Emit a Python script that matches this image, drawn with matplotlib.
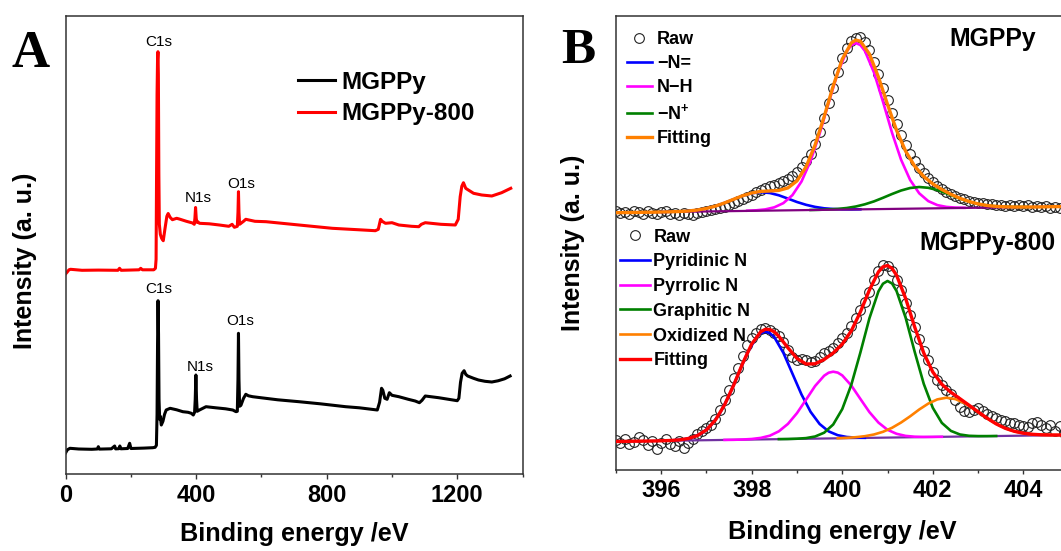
import matplotlib
matplotlib.use("Agg")
import matplotlib.pyplot as plt
from matplotlib.ticker import FixedLocator, MultipleLocator

plt.rcParams['font.family'] = ['Liberation Sans', 'DejaVu Sans']
plt.rcParams['mathtext.fontset'] = 'custom'
plt.rcParams['mathtext.rm'] = 'Liberation Sans:bold'
plt.rcParams['mathtext.bf'] = 'Liberation Sans:bold'
plt.rcParams['mathtext.it'] = 'Liberation Sans:bold'

# ---------------- Panel A: XPS survey spectra ----------------
black_ev = [0, 5, 13, 40, 80, 97, 100, 103, 140, 150, 153, 163, 166, 169, 190, 196, 200, 240, 267, 274,
            278, 280, 281.5, 283, 284.5, 286, 288, 290, 293, 298, 303, 308, 320, 340, 359, 375, 385, 391,
            395, 397, 399, 401, 403, 410, 430, 460, 490, 512, 522, 526, 528, 529.5, 531, 533, 537, 545,
            552, 560, 573, 600, 650, 715, 780, 858, 900, 955, 962, 968, 972, 978, 985, 992, 1000, 1021,
            1050, 1071, 1084, 1092, 1102, 1143, 1200, 1205, 1210, 1215, 1221, 1226, 1232, 1250, 1265,
            1285, 1306, 1325, 1345, 1362]
black_int = [21.6, 24.5, 26, 25.3, 25, 25.3, 27.6, 25.2, 25.5, 28.3, 25.4, 25.6, 28.3, 25.5, 25.8, 31, 25.8,
             26.2, 26.6, 27, 29, 60, 130, 173.6, 140, 75, 55, 58, 49.3, 53, 60, 64.3, 66, 64.5, 62.6, 62,
             61, 59.3, 62, 75, 99.3, 75, 63, 64.3, 67.6, 66.5, 65.5, 64.3, 62.6, 63, 95, 141, 95, 68, 69,
             76, 80, 78.5, 77.6, 76.5, 74.5, 72.6, 70.5, 67.6, 66.5, 64.3, 72, 86, 84, 76, 75, 81.6, 79,
             77.6, 75, 73.3, 71.6, 74, 78.3, 76.6, 73.6, 76, 92, 101, 103.6, 100, 98.3, 96, 94.3, 93, 92.3,
             93.5, 95.5, 98.3]

red_ev = [0, 4, 10, 15, 50, 100, 160, 165, 170, 225, 230, 235, 270, 275, 277, 278.5, 280, 281.5, 282.8,
          284, 285.5, 287, 290, 294, 299, 304, 310, 314, 320, 327, 340, 348, 370, 389, 394, 396, 398, 400,
          402, 405, 410, 440, 471, 500, 510, 517, 526, 528, 529.5, 531, 533, 537, 545, 552, 580, 614, 715,
          817, 900, 949, 958, 965, 970, 980, 1000, 1021, 1060, 1082, 1090, 1102, 1150, 1194, 1203, 1209,
          1214, 1219, 1226, 1234, 1250, 1275, 1306, 1336, 1364]
red_int = [200.5, 202, 204.5, 205, 204, 204.2, 204, 206, 204, 204.5, 206, 204.5, 204.5, 206, 215, 300,
           380, 415, 422.6, 400, 300, 250, 240, 236, 233.6, 245, 258, 260.8, 257, 254.6, 256, 255.3, 253,
           251.3, 250, 256, 266.8, 256, 252, 252.5, 251, 250.5, 249.3, 248, 250, 247, 248, 262, 282.6, 262,
           250, 251, 253, 255, 253, 252.6, 249.3, 246, 244.5, 243.6, 245, 255, 253, 251, 251.6, 249.3, 248,
           247.6, 250, 251.6, 250, 249.3, 255, 277.6, 288, 291.6, 286, 284.3, 281, 279.3, 278.3, 281.6, 286]

survey_names = ['MGPPy', 'MGPPy-800']
a_ticks = [0, 400, 800, 1200]
a_tick_labels = ['0', '400', '800', '1200']
a_minor = [200, 600, 1000, 1400]

peak_labels = ['C1s', 'N1s', 'O1s', 'C1s', 'N1s', 'O1s']
peak_label_x = [285.5, 406.5, 537.3, 283.7, 411.6, 534.7]
peak_label_y = [432.0, 276.5, 290.1, 185.5, 107.3, 153.3]

# ---------------- Panel B: N1s high resolution ----------------
raw_top_x = [395.0, 395.1, 395.2, 395.3, 395.4, 395.5, 395.6, 395.7, 395.8, 395.9,
             396.0, 396.1, 396.2, 396.3, 396.4, 396.5, 396.6, 396.7, 396.8, 396.9,
             397.0, 397.1, 397.2, 397.3, 397.4, 397.5, 397.6, 397.7, 397.8, 397.9,
             398.0, 398.1, 398.2, 398.3, 398.4, 398.5, 398.6, 398.7, 398.8, 398.9,
             399.0, 399.1, 399.2, 399.3, 399.4, 399.5, 399.6, 399.7, 399.8, 399.9,
             400.0, 400.1, 400.2, 400.3, 400.4, 400.5, 400.6, 400.7, 400.8, 400.9,
             401.0, 401.1, 401.2, 401.3, 401.4, 401.5, 401.6, 401.7, 401.8, 401.9,
             402.0, 402.1, 402.2, 402.3, 402.4, 402.5, 402.6, 402.7, 402.8, 402.9,
             403.0, 403.1, 403.2, 403.3, 403.4, 403.5, 403.6, 403.7, 403.8, 403.9,
             404.0, 404.1, 404.2, 404.3, 404.4, 404.5, 404.6, 404.7, 404.8]
raw_top_y = [259, 257, 258, 256, 259, 258, 256, 259, 257, 256,
             258, 259, 256, 257, 255, 257, 256, 255, 257, 258,
             259, 260, 261, 262, 263.5, 265, 267, 269, 271, 273,
             275.5, 278, 280.5, 282.5, 284, 285.5, 287, 289, 291, 294,
             298, 303, 309, 316, 326, 338, 352, 367, 382, 398,
             412, 422, 429, 432, 433, 428, 420, 408, 396, 382,
             370, 357, 346, 335, 325, 316, 309, 302, 297, 292,
             288, 284, 281, 278, 276, 274, 272, 271, 269, 268,
             267.5, 267, 266, 266.5, 265, 265.5, 264, 265, 264, 265.5,
             264, 265, 263.5, 264.5, 263, 264, 262.5, 263.5, 262]

top_base_x = [395.0, 405.0]
top_base_y = [257.3, 263.5]

top_blue_x = [396.0, 396.2, 396.4, 396.6, 396.8, 397.0, 397.2, 397.4, 397.6, 397.8, 398.0, 398.2,
              398.4, 398.6, 398.8, 399.0, 399.2, 399.4, 399.6, 399.8, 400.0, 400.2, 400.4]
top_blue_y = [258.0, 258.2, 258.5, 259.0, 260.0, 261.6, 263.9, 267.1, 270.7, 274.2, 276.8, 277.8,
              277.0, 274.7, 271.4, 268.0, 265.2, 263.1, 261.7, 261.0, 260.7, 260.6, 260.7]

top_pink_x = [397.9, 398.1, 398.3, 398.5, 398.7, 398.9, 399.1, 399.3, 399.5, 399.7, 399.9, 400.1,
              400.2, 400.3, 400.4, 400.5, 400.7, 400.9, 401.1, 401.3, 401.5, 401.7, 401.9, 402.1,
              402.3, 402.5, 402.7]
top_pink_y = [259.3, 259.7, 260.6, 262.7, 266.9, 274.9, 288.5, 309.0, 336.2, 367.4, 397.1, 418.9,
              424.8, 426.9, 425.0, 419.1, 397.6, 368.2, 337.2, 310.2, 290.0, 276.7, 268.9, 264.9,
              263.1, 262.4, 262.2]

top_green_x = [399.3, 399.5, 399.7, 399.9, 400.1, 400.3, 400.5, 400.7, 400.9, 401.1, 401.3, 401.5,
               401.7, 401.9, 402.1, 402.3, 402.5, 402.7, 402.9, 403.1, 403.3, 403.5, 403.7, 403.9, 404.1]
top_green_y = [260.0, 260.2, 260.6, 261.1, 262.0, 263.5, 265.7, 268.6, 272.2, 276.0, 279.5, 282.0,
               283.0, 282.2, 280.0, 276.7, 273.1, 269.8, 267.2, 265.2, 264.0, 263.4, 263.1, 263.0, 263.0]

top_fit_x = [395.0, 395.2, 395.4, 395.6, 395.8, 396.0, 396.2, 396.4, 396.6, 396.8, 397.0, 397.2,
             397.4, 397.6, 397.8, 398.0, 398.2, 398.4, 398.6, 398.8, 399.0, 399.2, 399.4, 399.6,
             399.8, 400.0, 400.2, 400.3, 400.4, 400.6, 400.8, 401.0, 401.2, 401.4, 401.6, 401.8,
             402.0, 402.2, 402.4, 402.6, 402.8, 403.0, 403.2, 403.4, 403.6, 403.8, 404.0, 404.2,
             404.4, 404.6, 404.8, 405.0]
top_fit_y = [257.3, 257.4, 257.5, 257.7, 257.8, 258.0, 258.2, 258.5, 259.0, 260.0, 261.6, 263.9,
             267.1, 270.7, 274.3, 277.0, 278.6, 279.0, 279.6, 282.1, 289.1, 303.1, 325.0, 353.3,
             384.0, 410.8, 427.1, 429.9, 428.8, 416.0, 392.8, 365.5, 339.6, 318.8, 303.8, 293.5,
             286.1, 280.5, 275.7, 271.7, 268.5, 266.1, 264.5, 263.6, 263.2, 263.0, 263.0, 263.0,
             263.1, 263.3, 263.4, 263.5]

raw_bot_x = [395.0, 395.1, 395.2, 395.3, 395.4, 395.5, 395.6, 395.7, 395.8, 395.9,
             396.0, 396.1, 396.2, 396.3, 396.4, 396.5, 396.6, 396.7, 396.8, 396.9,
             397.0, 397.1, 397.2, 397.3, 397.4, 397.5, 397.6, 397.7, 397.8, 397.9,
             398.0, 398.1, 398.2, 398.3, 398.4, 398.5, 398.6, 398.7, 398.8, 398.9,
             399.0, 399.1, 399.2, 399.3, 399.4, 399.5, 399.6, 399.7, 399.8, 399.9,
             400.0, 400.1, 400.2, 400.3, 400.4, 400.5, 400.6, 400.7, 400.8, 400.9,
             401.0, 401.1, 401.2, 401.3, 401.4, 401.5, 401.6, 401.7, 401.8, 401.9,
             402.0, 402.1, 402.2, 402.3, 402.4, 402.5, 402.6, 402.7, 402.8, 402.9,
             403.0, 403.1, 403.2, 403.3, 403.4, 403.5, 403.6, 403.7, 403.8, 403.9,
             404.0, 404.1, 404.2, 404.3, 404.4, 404.5, 404.6, 404.7, 404.8, 404.9]
raw_bot_y = [30, 27, 31, 26, 28, 33, 30, 25, 29, 21,
             27, 31, 26, 24, 29, 22, 27, 31, 36, 39,
             42, 45, 51, 60, 70, 80, 92, 102, 114, 125,
             132, 137, 141, 142, 140, 137, 134, 128, 120, 113,
             110, 111, 110, 108, 109, 113, 117, 119, 122, 127,
             132, 137, 144, 152, 160, 168, 178, 190, 199, 205,
             204, 199, 190, 180, 167, 155, 143, 131, 119, 110,
             98, 90, 85, 80, 76, 70, 63, 59, 58, 60,
             62, 59, 56, 54, 52, 50, 49, 47, 47, 45,
             44, 43, 47, 48, 45, 42, 45, 39, 44, 37]

bot_base_x = [395.0, 405.0]
bot_base_y = [28.5, 35.0]

bot_blue_x = [396.1, 396.3, 396.5, 396.7, 396.9, 397.1, 397.3, 397.5, 397.7, 397.9, 398.1, 398.2,
              398.3, 398.4, 398.5, 398.7, 398.9, 399.1, 399.3, 399.5, 399.7, 399.9, 400.1, 400.3, 400.5]
bot_blue_y = [29.4, 29.8, 30.7, 32.7, 36.8, 44.5, 56.9, 74.4, 95.6, 116.6, 132.4, 136.8,
              138.4, 136.9, 132.7, 117.1, 96.3, 75.5, 58.2, 46.0, 38.6, 34.8, 33.0, 32.4, 32.2]

bot_pink_x = [397.4, 397.6, 397.8, 398.0, 398.2, 398.4, 398.6, 398.8, 399.0, 399.2, 399.4, 399.6,
              399.7, 399.8, 399.9, 400.0, 400.2, 400.4, 400.6, 400.8, 401.0, 401.2, 401.4, 401.6,
              401.8, 402.0, 402.2]
bot_pink_y = [30.1, 30.2, 30.5, 31.0, 32.1, 34.3, 38.7, 46.1, 56.9, 70.3, 84.0, 94.3,
              97.3, 98.3, 97.4, 94.6, 84.5, 71.1, 57.9, 47.4, 40.2, 36.2, 34.1, 33.3,
              33.1, 33.1, 33.2]

bot_green_x = [398.6, 398.8, 399.0, 399.2, 399.4, 399.6, 399.8, 400.0, 400.2, 400.4, 400.6, 400.8,
               400.9, 401.0, 401.1, 401.2, 401.4, 401.6, 401.8, 402.0, 402.2, 402.4, 402.6, 402.8,
               403.0, 403.2, 403.4]
bot_green_y = [30.9, 31.0, 31.3, 31.9, 33.5, 37.3, 45.5, 60.9, 85.2, 117.4, 151.7, 178.7,
               186.3, 189.0, 186.5, 178.9, 152.3, 118.2, 86.2, 62.2, 47.1, 39.1, 35.5, 34.2,
               33.9, 33.9, 34.0]

bot_orange_x = [399.9, 400.1, 400.3, 400.5, 400.7, 400.9, 401.1, 401.3, 401.5, 401.7, 401.9, 402.1,
                402.3, 402.5, 402.7, 402.9, 403.1, 403.3, 403.5, 403.7, 403.9, 404.1, 404.3, 404.5,
                404.7, 404.9]
bot_orange_y = [31.8, 32.2, 32.8, 33.8, 35.5, 38.2, 42.2, 47.5, 53.7, 60.5, 66.4, 70.6,
                72.3, 70.9, 66.9, 61.2, 54.8, 48.8, 43.8, 40.1, 37.6, 36.1, 35.4, 35.1,
                35.0, 35.0]

bot_fit_x = [395.0, 395.2, 395.4, 395.6, 395.8, 396.0, 396.2, 396.4, 396.6, 396.8, 397.0, 397.2,
             397.4, 397.6, 397.8, 398.0, 398.2, 398.3, 398.4, 398.5, 398.6, 398.8, 399.0, 399.2,
             399.4, 399.6, 399.8, 400.0, 400.2, 400.4, 400.6, 400.8, 400.9, 401.0, 401.1, 401.2,
             401.4, 401.6, 401.8, 402.0, 402.2, 402.4, 402.6, 402.8, 403.0, 403.2, 403.4, 403.6,
             403.8, 404.0, 404.2, 404.4, 404.6, 404.8, 405.0]
bot_fit_y = [28.5, 28.6, 28.8, 28.9, 29.0, 29.2, 29.5, 30.1, 31.5, 34.4, 40.1, 50.0,
             65.1, 84.7, 106.6, 126.0, 138.3, 140.7, 140.5, 138.1, 133.7, 122.2, 111.6, 106.0,
             106.2, 110.5, 117.0, 125.9, 139.1, 158.0, 180.0, 198.2, 203.2, 204.5, 201.6, 194.7,
             171.6, 143.0, 117.0, 98.0, 85.7, 77.7, 71.3, 64.8, 58.2, 51.8, 46.1, 41.7,
             38.7, 36.8, 35.7, 35.2, 35.0, 35.0, 35.0]

top_labels = ['Raw', '\u2212N=', 'N\u2212H', '\u2212N$^{+}$', 'Fitting']
bot_labels = ['Raw', 'Pyridinic N', 'Pyrrolic N', 'Graphitic N', 'Oxidized N', 'Fitting']
b_ticks = [396, 398, 400, 402, 404]
b_tick_labels = ['396', '398', '400', '402', '404']

# ---------------- Figure ----------------
W, H = 1061, 551
fig = plt.figure(figsize=(W / 100, H / 100), dpi=100)


def px_axes(l, t, r, b):
    return fig.add_axes([l / W, 1 - b / H, (r - l) / W, (b - t) / H])


spine_c = '#333333'
axA = px_axes(65.7, 15.7, 522.5, 474.3)
axB = px_axes(615.9, 15.7, 1068.6, 470.0)

for ax in (axA, axB):
    for s in ax.spines.values():
        s.set_color(spine_c)
        s.set_linewidth(1.1)
    ax.set_yticks([])

# Panel A
axA.plot(black_ev, black_int, color='black', lw=2.2, label=survey_names[0], solid_joinstyle='round')
axA.plot(red_ev, red_int, color='#FF0000', lw=2.2, label=survey_names[1], solid_joinstyle='round')
axA.set_xlim(0, 1400)
axA.set_ylim(0, 458.6)
axA.xaxis.set_major_locator(FixedLocator(a_ticks))
axA.xaxis.set_minor_locator(FixedLocator(a_minor))
axA.set_xticks(a_ticks, labels=a_tick_labels, fontweight='bold')
axA.tick_params(axis='x', which='major', direction='out', length=3.6, width=1.0, pad=3.3,
                labelsize=17, color=spine_c)
axA.tick_params(axis='x', which='minor', direction='out', length=2.5, width=1.0, color=spine_c)
for lab, lx, ly in zip(peak_labels, peak_label_x, peak_label_y):
    axA.text(lx, ly, lab, ha='center', va='center', fontsize=11)
axA.set_xlabel('Binding energy /eV', fontsize=18.2, fontweight='bold')
axA.xaxis.set_label_coords(0.5, -0.105)
axA.set_ylabel('Intensity (a. u.)', fontsize=18, fontweight='bold')
axA.yaxis.set_label_coords(-0.062, 0.465)
axA.legend(loc='upper left', bbox_to_anchor=(298.3 / W, 1 - 71 / H), bbox_transform=fig.transFigure,
           frameon=False, prop={'weight': 'bold', 'size': 17.5}, handlelength=1.51,
           handletextpad=0.28, labelspacing=0.34, borderpad=0, borderaxespad=0)
fig.text(31 / W, 1 - 66.7 / H, 'A', family=['Liberation Serif', 'DejaVu Serif'], fontweight='bold',
         fontsize=38, ha='center', va='baseline')

# Panel B
mk = dict(marker='o', ls='none', ms=7, mfc='none', mec='#222222', mew=0.8)
raw_t, = axB.plot(raw_top_x, raw_top_y, zorder=2, **mk)
raw_b, = axB.plot(raw_bot_x, raw_bot_y, zorder=2, **mk)
lw_c = 1.9
tb, = axB.plot(top_blue_x, top_blue_y, color='#0000FF', lw=lw_c, zorder=3)
tp, = axB.plot(top_pink_x, top_pink_y, color='#FF00FF', lw=lw_c, zorder=3)
tg, = axB.plot(top_green_x, top_green_y, color='#008000', lw=lw_c, zorder=3)
axB.plot(top_base_x, top_base_y, color='#800080', lw=1.6, zorder=3.5)
tf, = axB.plot(top_fit_x, top_fit_y, color='#FF8000', lw=2.4, zorder=4)

axB.plot(bot_base_x, bot_base_y, color='#7030A0', lw=1.6, zorder=2.9)
bb, = axB.plot(bot_blue_x, bot_blue_y, color='#0000FF', lw=lw_c, zorder=3)
bp, = axB.plot(bot_pink_x, bot_pink_y, color='#FF00FF', lw=lw_c, zorder=3)
bg, = axB.plot(bot_green_x, bot_green_y, color='#008000', lw=lw_c, zorder=3)
bo, = axB.plot(bot_orange_x, bot_orange_y, color='#FF8000', lw=lw_c, zorder=3)
bf, = axB.plot(bot_fit_x, bot_fit_y, color='#FF0000', lw=2.4, zorder=4)

axB.set_xlim(395, 405)
axB.set_ylim(0, 454.3)
axB.xaxis.set_major_locator(FixedLocator(b_ticks))
axB.xaxis.set_minor_locator(MultipleLocator(1))
axB.set_xticks(b_ticks, labels=b_tick_labels, fontweight='bold')
axB.tick_params(axis='x', which='major', direction='out', length=2.9, width=1.0, pad=3.5,
                labelsize=17, color=spine_c)
axB.tick_params(axis='x', which='minor', direction='out', length=2.2, width=1.0, color=spine_c)
axB.set_xlabel('Binding energy /eV', fontsize=18.2, fontweight='bold')
axB.xaxis.set_label_coords(0.5, -0.111)
axB.set_ylabel('Intensity (a. u.)', fontsize=18, fontweight='bold')
axB.yaxis.set_label_coords(-0.068, 0.5)

leg1 = axB.legend([raw_t, tb, tp, tg, tf], top_labels, loc='upper left',
                  bbox_to_anchor=(626.7 / W, 1 - 31.5 / H), bbox_transform=fig.transFigure,
                  frameon=False, prop={'weight': 'bold', 'size': 13}, handlelength=1.39,
                  handletextpad=0.28, labelspacing=0.38, borderpad=0, borderaxespad=0, numpoints=1)
axB.add_artist(leg1)
axB.legend([raw_b, bb, bp, bg, bo, bf], bot_labels, loc='upper left',
           bbox_to_anchor=(620 / W, 1 - 228.5 / H), bbox_transform=fig.transFigure,
           frameon=False, prop={'weight': 'bold', 'size': 13}, handlelength=1.67,
           handletextpad=0.18, labelspacing=0.43, borderpad=0, borderaxespad=0, numpoints=1)

axB.text(403.33, 431, 'MGPPy', ha='center', va='center', fontsize=17.8, fontweight='bold')
axB.text(403.21, 227, 'MGPPy-800', ha='center', va='center', fontsize=17.8, fontweight='bold')
fig.text(578 / W, 1 - 63 / H, 'B', family=['Liberation Serif', 'DejaVu Serif'], fontweight='bold',
         fontsize=37, ha='center', va='baseline')

fig.savefig('out.png', dpi=100)
